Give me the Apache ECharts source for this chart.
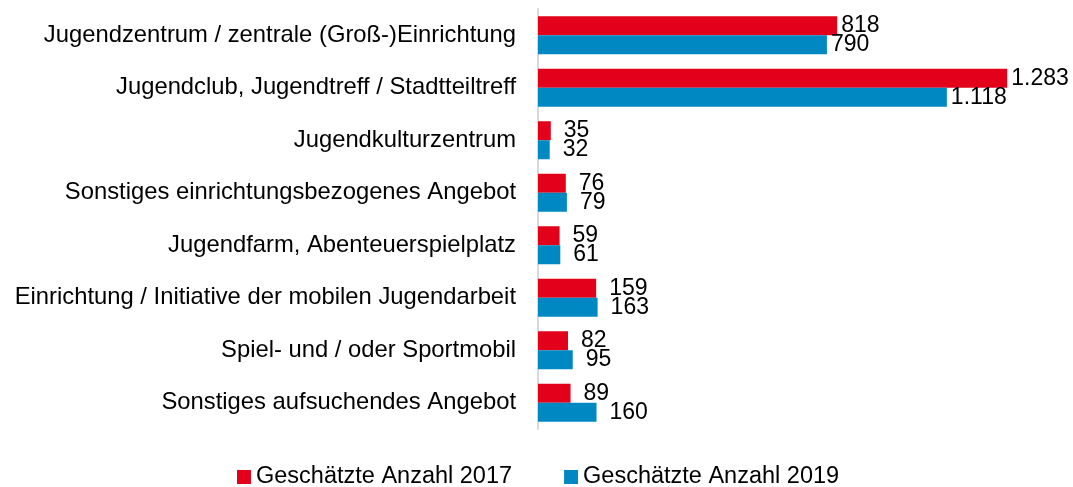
<!DOCTYPE html>
<html>
<head>
<meta charset="utf-8">
<script src="https://cdn.jsdelivr.net/npm/echarts@6/dist/echarts.min.js"></script>
<style>
html, body { margin: 0; padding: 0; background: #fff; }
#chart { width: 1073px; height: 487px; }
</style>
</head>
<body>
<div id="chart"></div>
<script>
var categories = [
    "Jugendzentrum / zentrale (Groß-)Einrichtung",
    "Jugendclub, Jugendtreff / Stadtteiltreff",
    "Jugendkulturzentrum",
    "Sonstiges einrichtungsbezogenes Angebot",
    "Jugendfarm, Abenteuerspielplatz",
    "Einrichtung / Initiative der mobilen Jugendarbeit",
    "Spiel- und / oder Sportmobil",
    "Sonstiges aufsuchendes Angebot"
];
var values2017 = [818, 1283, 35, 76, 59, 159, 82, 89];
var values2019 = [790, 1118, 32, 79, 61, 163, 95, 160];
var seriesNames = ["Geschätzte Anzahl 2017", "Geschätzte Anzahl 2019"];

// Tausendertrennzeichen mit Punkt
function fmt(v) {
    return String(v).replace(/\B(?=(\d{3})+(?!\d))/g, ".");
}

var myChart = echarts.init(document.getElementById("chart"));

// kurze Balken: Beschriftung etwas weiter weg (wie im Original)
function withLabels(arr) {
    return arr.map(function (v) {
        return { value: v, label: { distance: v < 500 ? 13 : 4 } };
    });
}

var labelStyle = {
    show: true,
    position: "right",
    color: "#000",
    fontSize: 23,
    fontFamily: "Liberation Sans, Arial, sans-serif",
    formatter: function (p) { return fmt(p.value); }
};

var option = {
    backgroundColor: "#fff",
    animation: false,
    textStyle: { fontFamily: "Liberation Sans, Arial, sans-serif" },
    grid: {
        left: 538,
        right: 23,
        top: 9,
        bottom: 58,
        containLabel: false
    },
    legend: {
        top: 465,
        left: 237,
        padding: 0,
        itemWidth: 14,
        itemHeight: 14,
        itemGap: 52,
        icon: "rect",
        textStyle: { color: "#000", fontSize: 23.5 },
        data: seriesNames
    },
    xAxis: {
        type: "value",
        min: 0,
        max: 1400,
        show: false
    },
    yAxis: {
        type: "category",
        inverse: true,
        data: categories,
        axisTick: { show: false },
        axisLine: { show: true, lineStyle: { color: "#d9d9d9", width: 2 } },
        axisLabel: { color: "#000", fontSize: 23.8, margin: 22 },
        splitLine: { show: false }
    },
    series: [
        {
            name: seriesNames[0],
            type: "bar",
            barWidth: 19,
            barGap: 0,
            itemStyle: { color: "#e2001a" },
            label: labelStyle,
            data: withLabels(values2017)
        },
        {
            name: seriesNames[1],
            type: "bar",
            barWidth: 19,
            barGap: 0,
            itemStyle: { color: "#0088c2" },
            label: labelStyle,
            data: withLabels(values2019)
        }
    ]
};
myChart.setOption(option);
</script>
</body>
</html>
